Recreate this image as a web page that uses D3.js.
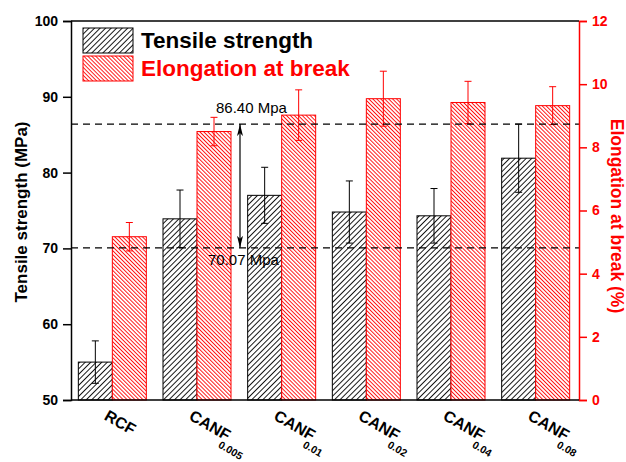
<!DOCTYPE html>
<html>
<head>
<meta charset="utf-8">
<script src="https://cdn.jsdelivr.net/npm/d3@7"></script>
<style>
  html, body { margin: 0; padding: 0; background: #fff; }
  svg { display: block; font-family: Arial, "Liberation Sans", sans-serif; }
</style>
</head>
<body>
<svg id="chart" width="626" height="462"></svg>
<script>
// Sample groups and their subscripts
const categories = ["RCF", "CANF", "CANF", "CANF", "CANF", "CANF"];
const subscripts = ["", "0.005", "0.01", "0.02", "0.04", "0.08"];

// Tensile strength (MPa), mean and standard deviation
const tensile = [55.0, 73.9, 77.0, 74.8, 74.3, 81.9];
const tensileErr = [2.8, 3.8, 3.7, 4.1, 3.6, 4.5];

// Elongation at break (%), mean and standard deviation
const elongation = [5.17, 8.50, 9.02, 9.54, 9.42, 9.32];
const elongationErr = [0.45, 0.45, 0.80, 0.87, 0.67, 0.60];

// Axis ticks
const leftTicks = [50, 60, 70, 80, 90, 100];
const rightTicks = [0, 2, 4, 6, 8, 10, 12];

// Reference levels marked with dashed lines
const refLevels = [86.40, 70.07];
const refLabels = ["86.40 Mpa", "70.07 Mpa"];

const svg = d3.select("#chart");
const plot = { left: 71, right: 579, top: 21, bottom: 400 };

const x = d3.scaleBand()
  .domain(d3.range(categories.length))
  .range([70, 578])
  .padding(0);
const yL = d3.scaleLinear().domain([50, 100]).range([plot.bottom, plot.top]);
const yR = d3.scaleLinear().domain([0, 12]).range([plot.bottom, plot.top]);
const barW = 34;
const center = i => x(i) + x.bandwidth() / 2;

// Hatch patterns
const defs = svg.append("defs");
function hatch(id, color, gap, angle) {
  const p = defs.append("pattern")
    .attr("id", id)
    .attr("patternUnits", "userSpaceOnUse")
    .attr("width", gap).attr("height", gap)
    .attr("patternTransform", `rotate(${angle})`);
  p.append("rect").attr("width", gap).attr("height", gap).attr("fill", "#fff");
  p.append("line")
    .attr("x1", 0.5).attr("y1", 0).attr("x2", 0.5).attr("y2", gap)
    .attr("stroke", color).attr("stroke-width", 0.9);
}
hatch("hatchBlack", "#000", 3.9, 45);
hatch("hatchRed", "#ff0000", 2.8, -45);

// Tensile bars
svg.append("g").selectAll("rect")
  .data(tensile)
  .join("rect")
  .attr("x", (d, i) => center(i) - barW)
  .attr("y", d => yL(d))
  .attr("width", barW)
  .attr("height", d => yL(50) - yL(d))
  .attr("fill", "url(#hatchBlack)")
  .attr("stroke", "#000")
  .attr("stroke-width", 1);

// Elongation bars
svg.append("g").selectAll("rect")
  .data(elongation)
  .join("rect")
  .attr("x", (d, i) => center(i))
  .attr("y", d => yR(d))
  .attr("width", barW)
  .attr("height", d => yR(0) - yR(d))
  .attr("fill", "url(#hatchRed)")
  .attr("stroke", "#ff0000")
  .attr("stroke-width", 1);

// Error bars
function errorBars(values, errs, scale, xOff, color) {
  const g = svg.append("g").attr("stroke", color).attr("stroke-width", 1).attr("fill", "none");
  values.forEach((v, i) => {
    const cx = center(i) + xOff;
    const hi = scale(v + errs[i]), lo = scale(v - errs[i]);
    g.append("line").attr("x1", cx).attr("x2", cx).attr("y1", hi).attr("y2", lo);
    g.append("line").attr("x1", cx - 3.5).attr("x2", cx + 3.5).attr("y1", hi).attr("y2", hi);
    g.append("line").attr("x1", cx - 3.5).attr("x2", cx + 3.5).attr("y1", lo).attr("y2", lo);
  });
}
errorBars(tensile, tensileErr, yL, -barW / 2, "#000");
errorBars(elongation, elongationErr, yR, barW / 2, "#ff0000");

// Dashed reference lines
svg.append("g").selectAll("line")
  .data(refLevels)
  .join("line")
  .attr("x1", plot.left).attr("x2", plot.right)
  .attr("y1", d => yL(d)).attr("y2", d => yL(d))
  .attr("stroke", "#000")
  .attr("stroke-width", 1.3)
  .attr("stroke-dasharray", "7,5");

// Double-headed arrow between the two levels
defs.append("marker")
  .attr("id", "arrowHead")
  .attr("viewBox", "0 0 12 6")
  .attr("refX", 12).attr("refY", 3)
  .attr("markerWidth", 12).attr("markerHeight", 6)
  .attr("markerUnits", "userSpaceOnUse")
  .attr("orient", "auto-start-reverse")
  .append("path")
  .attr("d", "M0,0 L12,3 L0,6 L3,3 Z")
  .attr("fill", "#000");
svg.append("line")
  .attr("x1", 240).attr("x2", 240)
  .attr("y1", yL(refLevels[0])).attr("y2", yL(refLevels[1]))
  .attr("stroke", "#000").attr("stroke-width", 1.2)
  .attr("marker-start", "url(#arrowHead)")
  .attr("marker-end", "url(#arrowHead)");

svg.append("text")
  .attr("x", 216).attr("y", yL(refLevels[0]) - 11)
  .attr("font-size", 15).attr("fill", "#000")
  .text(refLabels[0]);
svg.append("text")
  .attr("x", 208).attr("y", yL(refLevels[1]) + 17)
  .attr("font-size", 15).attr("fill", "#000")
  .text(refLabels[1]);

// Left axis
const leftAxis = d3.axisLeft(yL).tickValues(leftTicks).tickSize(8).tickPadding(5);
const gL = svg.append("g").attr("transform", `translate(${plot.left},0)`).call(leftAxis);
gL.select(".domain").attr("stroke", "#000").attr("stroke-width", 1.5);
gL.selectAll(".tick line").attr("stroke", "#000").attr("stroke-width", 1.5);
gL.selectAll(".tick text").attr("font-size", 14).attr("font-weight", "bold")
  .attr("fill", "#000").attr("font-family", "Arial, 'Liberation Sans', sans-serif");

// Right axis
const rightAxis = d3.axisRight(yR).tickValues(rightTicks).tickSize(8).tickPadding(5);
const gR = svg.append("g").attr("transform", `translate(${plot.right},0)`).call(rightAxis);
gR.select(".domain").attr("stroke", "#ff0000").attr("stroke-width", 1.5);
gR.selectAll(".tick line").attr("stroke", "#ff0000").attr("stroke-width", 1.5);
gR.selectAll(".tick text").attr("font-size", 14).attr("font-weight", "bold")
  .attr("fill", "#ff0000").attr("font-family", "Arial, 'Liberation Sans', sans-serif");

// Top and bottom frame lines
svg.append("line")
  .attr("x1", plot.left).attr("x2", plot.right)
  .attr("y1", plot.top).attr("y2", plot.top)
  .attr("stroke", "#000").attr("stroke-width", 1.5);
svg.append("line")
  .attr("x1", plot.left).attr("x2", plot.right)
  .attr("y1", plot.bottom).attr("y2", plot.bottom)
  .attr("stroke", "#000").attr("stroke-width", 1.5);

// Category labels, rotated, with subscripts
const labels = svg.append("g").selectAll("text")
  .data(categories)
  .join("text")
  .attr("transform", (d, i) => `translate(${center(i) - 9},419) rotate(30)`)
  .attr("font-size", 16)
  .attr("font-weight", "bold")
  .attr("fill", "#000");
labels.append("tspan").text(d => d);
labels.append("tspan")
  .attr("dx", -5).attr("dy", 9.5)
  .attr("font-size", 10.5)
  .text((d, i) => subscripts[i]);

// Axis titles
svg.append("text")
  .attr("transform", "translate(27,212) rotate(-90)")
  .attr("text-anchor", "middle")
  .attr("font-size", 17).attr("font-weight", "bold").attr("fill", "#000")
  .text("Tensile strength (MPa)");
svg.append("text")
  .attr("transform", "translate(611,216) rotate(90)")
  .attr("text-anchor", "middle")
  .attr("font-size", 17.5).attr("font-weight", "bold").attr("fill", "#ff0000")
  .text("Elongation at break (%)");

// Legend
const legendItems = [
  { label: "Tensile strength", fill: "url(#hatchBlack)", stroke: "#000", color: "#000" },
  { label: "Elongation at break", fill: "url(#hatchRed)", stroke: "#ff0000", color: "#ff0000" }
];
const lg = svg.append("g").selectAll("g")
  .data(legendItems)
  .join("g")
  .attr("transform", (d, i) => `translate(83,${28 + i * 28})`);
lg.append("rect")
  .attr("width", 50).attr("height", 25)
  .attr("fill", d => d.fill).attr("stroke", d => d.stroke).attr("stroke-width", 1);
lg.append("text")
  .attr("x", 58).attr("y", 20)
  .attr("font-size", 22.5).attr("font-weight", "bold")
  .attr("fill", d => d.color)
  .text(d => d.label);
</script>
</body>
</html>
